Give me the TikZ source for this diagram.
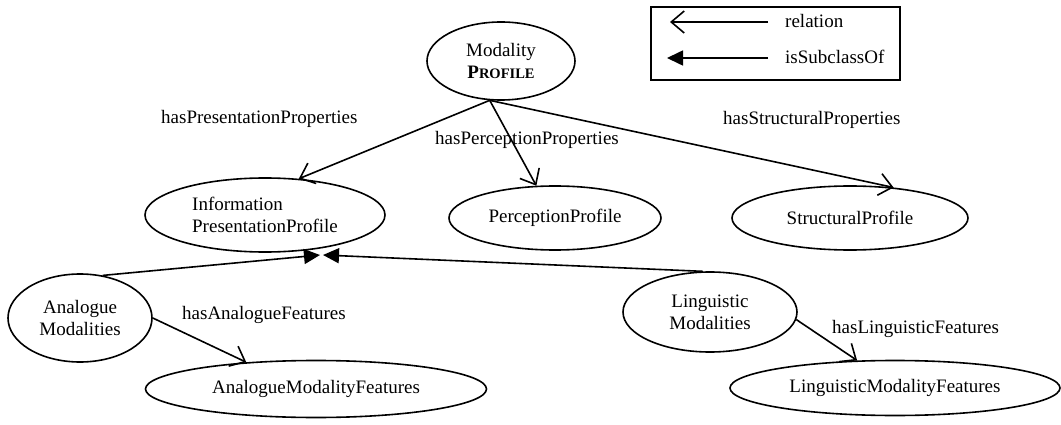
\documentclass[tikz,border=0pt]{standalone}
\usepackage{fontspec}
\setmainfont{Liberation Serif}
\usetikzlibrary{shapes.geometric,arrows.meta}
\begin{document}
\begin{tikzpicture}[x=1pt,y=-1pt,
  every node/.style={font=\fontsize{19}{22}\selectfont},
  oval/.style={ellipse,draw,line width=1.6pt,inner sep=0pt},
  rel/.style={line width=1.6pt,-{Straight Barb[length=13pt,width=22pt,line width=1.6pt]}},
  isa/.style={line width=1.6pt,-{Triangle[length=16pt,width=15pt]}},
  lbl/.style={anchor=base west,inner sep=0pt}]
\useasboundingbox (0,0) rectangle (1061,425);
% legend
\draw[line width=1.4pt] (651,7) rectangle (900,80);
\node[lbl] (lrel) at (785,28) {relation};
\node[lbl] (lisa) at (785,64) {isSubclassOf};
\coordinate (r1) at (768,22); \coordinate (r2) at (670,22);
\coordinate (s1) at (768,58); \coordinate (s2) at (667,58);
\draw[rel] (r1) -- (r2);
\draw[isa] (s1) -- (s2);
% nodes
\node[oval,minimum width=148pt,minimum height=78pt,align=center] (mod) at (501,61)
  {Modality\\{\bfseries P{\fontsize{14.5}{22}\selectfont ROFILE}}};
\node[oval,minimum width=240pt,minimum height=74pt,align=left] (info) at (265,215)
  {Information\\PresentationProfile};
\node[oval,minimum width=212pt,minimum height=64pt] (perc) at (555,218) {PerceptionProfile};
\node[oval,minimum width=236pt,minimum height=64pt] (stru) at (850,218) {StructuralProfile};
\node[oval,minimum width=144pt,minimum height=88pt,align=center] (ana) at (80,318)
  {Analogue\\Modalities};
\node[oval,minimum width=174pt,minimum height=80pt,align=center] (ling) at (710,312)
  {Linguistic\\Modalities};
\node[oval,minimum width=341pt,minimum height=57pt] (amf) at (316,389) {AnalogueModalityFeatures};
\node[oval,minimum width=330pt,minimum height=55pt] (lmf) at (895,388) {LinguisticModalityFeatures};
% edge labels
\node[lbl] (l1) at (161,124) {hasPresentationProperties};
\node[lbl] (l2) at (435,145) {hasPerceptionProperties};
\node[lbl] (l3) at (723,125) {hasStructuralProperties};
\node[lbl] (l4) at (182,319) {hasAnalogueFeatures};
\node[lbl] (l5) at (832,333) {hasLinguisticFeatures};
% connectors
\draw[rel] (mod.254) -- (info.47);
\draw[rel] (mod.254) -- (perc.120);
\draw[rel] (mod.254) -- (stru.35);
\coordinate (isaL) at (320,255);
\coordinate (isaR) at (323,255);
\draw[isa] (ana.62) -- (isaL);
\draw[isa] (ling.100) -- (isaR);
\draw[rel] (ana.0) -- (amf.159);
\draw[rel] (ling.-5) -- (lmf.144);
\end{tikzpicture}
\end{document}
